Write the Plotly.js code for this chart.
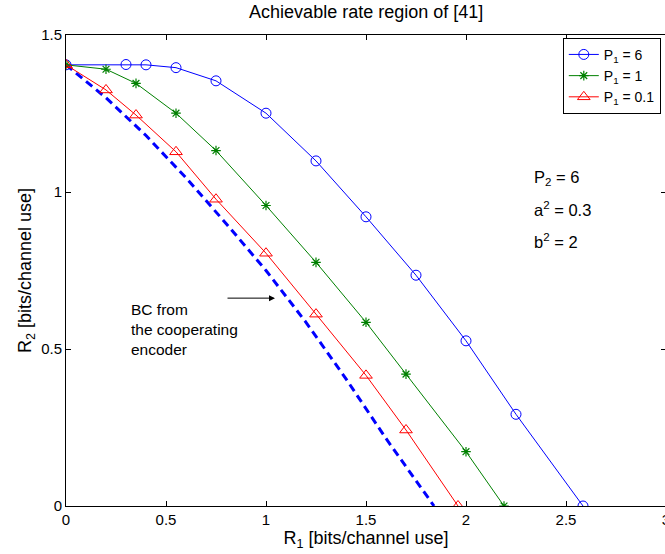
<!DOCTYPE html>
<html>
<head>
<meta charset="utf-8">
<script src="https://cdn.plot.ly/plotly-3.0.1.min.js"></script>
<style>html,body{margin:0;padding:0;overflow:hidden;background:#fff;}#chart{width:667px;height:554px;}</style>
</head>
<body>
<div id="chart"></div>
<script>
const x_p6 = [0, 0.3, 0.4, 0.55, 0.75, 1.0, 1.25, 1.5, 1.75, 2.0, 2.25, 2.585];
const y_p6 = [1.405, 1.406, 1.405, 1.396, 1.354, 1.251, 1.099, 0.921, 0.735, 0.526, 0.292, 0];
const x_p1 = [0, 0.2, 0.35, 0.55, 0.75, 1.0, 1.25, 1.5, 1.7, 2.0, 2.19];
const y_p1 = [1.405, 1.391, 1.346, 1.251, 1.132, 0.957, 0.776, 0.585, 0.42, 0.173, 0];
const x_p01 = [0, 0.2, 0.35, 0.55, 0.75, 1.0, 1.25, 1.5, 1.7, 1.96];
const y_p01 = [1.405, 1.325, 1.245, 1.128, 0.977, 0.805, 0.611, 0.416, 0.242, 0];
const x_bc = [0, 0.2, 0.4, 0.6, 0.8, 1.0, 1.2, 1.4, 1.6, 1.84];
const y_bc = [1.405, 1.30, 1.18, 1.045, 0.90, 0.75, 0.585, 0.405, 0.215, 0];
const legendNames = ["P<sub>1</sub> = 6", "P<sub>1</sub> = 1", "P<sub>1</sub> = 0.1"];
const paramLabels = ["P<sub>2</sub> = 6", "a<sup>2</sup> = 0.3", "b<sup>2</sup> = 2"];
const paramY = [1.045, 0.945, 0.845];
const bcLabel = "BC from<br>the cooperating<br>encoder";
const xTicks = [0, 0.5, 1, 1.5, 2, 2.5, 3];
const xTickText = ["0", "0.5", "1", "1.5", "2", "2.5", "3"];
const yTicks = [0, 0.5, 1, 1.5];
const yTickText = ["0", "0.5", "1", "1.5"];

const font = "Liberation Sans, Arial, Helvetica, sans-serif";
const traces = [
  {x: x_bc, y: y_bc, mode: "lines", line: {color: "#0000ff", width: 3, dash: "8px,5px"}, showlegend: false, hoverinfo: "skip"},
  {x: x_p6, y: y_p6, mode: "lines+markers", name: legendNames[0], line: {color: "#0000ff", width: 1},
   marker: {symbol: "circle-open", size: 10, color: "#0000ff", line: {width: 1}}},
  {x: x_p1, y: y_p1, mode: "lines+markers", name: legendNames[1], line: {color: "#008000", width: 1},
   marker: {symbol: "asterisk-open", size: 8, color: "#008000", line: {width: 1.2, color: "#008000"}}},
  {x: x_p01, y: y_p01, mode: "lines+markers", name: legendNames[2], line: {color: "#ff0000", width: 1},
   marker: {symbol: "triangle-up-open", size: 11, color: "#ff0000", line: {width: 1}}}
];

const annotations = paramLabels.map((t, i) => ({
  x: 2.33, y: paramY[i], xref: "x", yref: "y", text: t, showarrow: false,
  xanchor: "left", yanchor: "middle", font: {family: font, size: 16.5, color: "#000"}
}));
annotations.push({x: 0.315, y: 0.562, xref: "x", yref: "y", text: bcLabel, showarrow: false,
  xanchor: "left", yanchor: "middle", align: "left", font: {family: font, size: 15.5, color: "#000"}});
annotations.push({x: 1.045, y: 0.662, ax: 0.80, ay: 0.662, xref: "x", yref: "y", axref: "x", ayref: "y",
  text: "", showarrow: true, arrowhead: 2, arrowsize: 1.2, arrowwidth: 1, arrowcolor: "#000"});

const layout = {
  width: 667, height: 554,
  margin: {l: 66, r: 1, t: 35, b: 48},
  paper_bgcolor: "#fff", plot_bgcolor: "#fff",
  font: {family: font, size: 15, color: "#000"},
  title: {text: "Achievable rate region of [41]", x: 0.549, xanchor: "center", y: 0.99, yanchor: "top", font: {family: font, size: 18}},
  xaxis: {range: [0, 3], tickvals: xTicks, ticktext: xTickText, ticklabeloverflow: "allow",
    ticks: "inside", ticklen: 5, tickcolor: "#000", showline: true, linecolor: "#000", linewidth: 1, mirror: "ticks",
    showgrid: false, zeroline: false, tickfont: {size: 15},
    title: {text: "R<sub>1</sub> [bits/channel use]", font: {size: 18}, standoff: 1}},
  yaxis: {range: [0, 1.5], tickvals: yTicks, ticktext: yTickText,
    ticks: "inside", ticklen: 5, tickcolor: "#000", showline: true, linecolor: "#000", linewidth: 1, mirror: "ticks",
    showgrid: false, zeroline: false, tickfont: {size: 15},
    title: {text: "R<sub>2</sub> [bits/channel use]", font: {size: 18}, standoff: 4}},
  legend: {x: 0.828, y: 0.994, xanchor: "left", yanchor: "top", bgcolor: "#fff", bordercolor: "#000", borderwidth: 1,
    font: {size: 14}, tracegroupgap: 0, itemwidth: 30},
  annotations: annotations,
  showlegend: true
};
Plotly.newPlot("chart", traces, layout, {displayModeBar: false, staticPlot: true});
</script>
</body>
</html>
